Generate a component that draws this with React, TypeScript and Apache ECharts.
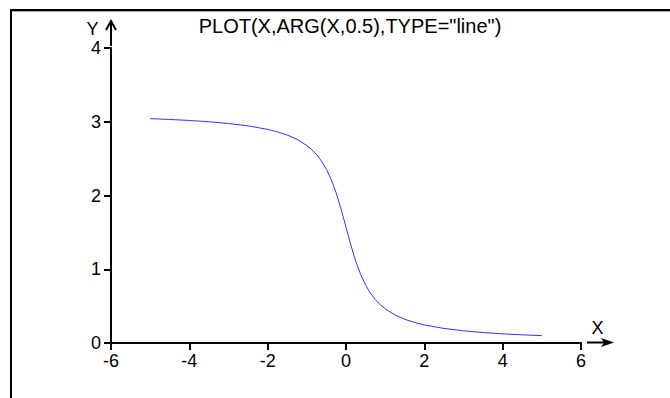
import React, { useEffect, useRef } from "react";
import * as echarts from "echarts";

const titleText = 'PLOT(X,ARG(X,0.5),TYPE="line")';
const xTicks = [-6, -4, -2, 0, 2, 4, 6];
const yTicks = [0, 1, 2, 3, 4];
const xValues = [
  -5, -4.5, -4, -3.5, -3, -2.5, -2, -1.75, -1.5, -1.25, -1, -0.875, -0.75, -0.625, -0.5,
  -0.375, -0.25, -0.125, 0, 0.125, 0.25, 0.375, 0.5, 0.625, 0.75, 0.875, 1, 1.25, 1.5,
  1.75, 2, 2.5, 3, 3.5, 4, 4.5, 5,
];
const yValues = [
  3.0419, 3.0309, 3.0172, 2.9997, 2.9764, 2.9442, 2.8966, 2.8633, 2.8198, 2.7611, 2.6779,
  2.6225, 2.5536, 2.4669, 2.3562, 2.2143, 2.0344, 1.8158, 1.5708, 1.3258, 1.1071, 0.9273,
  0.7854, 0.6747, 0.588, 0.5191, 0.4636, 0.3805, 0.3218, 0.2783, 0.245, 0.1974, 0.1651,
  0.1419, 0.1244, 0.1107, 0.0997,
];

const FONT = "'Liberation Sans', Arial, sans-serif";

export default function App() {
  const ref = useRef<HTMLDivElement>(null);
  useEffect(() => {
    if (!ref.current) return;
    const chart = echarts.init(ref.current, null, { renderer: "svg" });
    chart.setOption({
      animation: false,
      backgroundColor: "#ffffff",
      title: {
        text: titleText,
        left: 345,
        top: 11,
        textAlign: "center",
        textStyle: { fontFamily: FONT, fontSize: 20, fontWeight: "normal", color: "#000" },
      },
      grid: { left: 111, right: 89, top: 48, bottom: 55, containLabel: false },
      xAxis: {
        type: "value",
        min: xTicks[0],
        max: xTicks[xTicks.length - 1],
        interval: 2,
        axisLine: { onZero: false, lineStyle: { color: "#000", width: 2 } },
        axisTick: { show: true, length: 7, lineStyle: { color: "#000", width: 2 } },
        axisLabel: { color: "#000", fontSize: 18, fontFamily: FONT, margin: 9 },
        splitLine: { show: false },
      },
      yAxis: {
        type: "value",
        min: yTicks[0],
        max: yTicks[yTicks.length - 1],
        interval: 1,
        axisLine: { show: true, onZero: false, lineStyle: { color: "#000", width: 2 } },
        axisTick: { show: true, length: 7, lineStyle: { color: "#000", width: 2 } },
        axisLabel: { color: "#000", fontSize: 18, fontFamily: FONT, margin: 10 },
        splitLine: { show: false },
      },
      series: [
        {
          type: "line",
          data: xValues.map((x, i) => [x, yValues[i]]),
          showSymbol: false,
          symbol: "none",
          lineStyle: { color: "#3333ff", width: 1 },
          itemStyle: { color: "#3333ff" },
        },
      ],
      graphic: [
        { type: "line", shape: { x1: 10, y1: 10, x2: 670, y2: 10 }, style: { stroke: "#000", lineWidth: 2 } },
        { type: "line", shape: { x1: 10, y1: 11.5, x2: 670, y2: 11.5 }, style: { stroke: "#aaa", lineWidth: 1 } },
        { type: "line", shape: { x1: 11, y1: 10, x2: 11, y2: 398 }, style: { stroke: "#000", lineWidth: 2 } },
        { type: "line", shape: { x1: 111, y1: 46, x2: 111, y2: 21 }, style: { stroke: "#000", lineWidth: 2 } },
        { type: "polyline", shape: { points: [[106, 30], [111, 21], [116, 30]] }, style: { stroke: "#000", lineWidth: 2, fill: null } },
        { type: "line", shape: { x1: 587, y1: 342.5, x2: 605, y2: 342.5 }, style: { stroke: "#000", lineWidth: 2 } },
        { type: "polygon", shape: { points: [[601, 338], [614, 342.5], [601, 347], [604, 342.5]] }, style: { fill: "#000" } },
        { type: "text", x: 92.5, y: 28.5, style: { text: "Y", fontSize: 18, fontFamily: FONT, fill: "#000", align: "center", verticalAlign: "middle" } },
        { type: "text", x: 597.5, y: 327.5, style: { text: "X", fontSize: 18, fontFamily: FONT, fill: "#000", align: "center", verticalAlign: "middle" } },
      ],
    });
    return () => chart.dispose();
  }, []);
  return (
    <div
      ref={ref}
      style={{ position: "fixed", left: 0, top: 0, width: 670, height: 398, background: "#fff" }}
    />
  );
}
